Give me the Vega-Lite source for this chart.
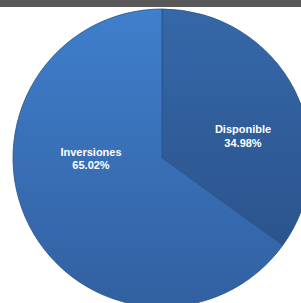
{
  "$schema": "https://vega.github.io/schema/vega-lite/v6.json",
  "width": 324,
  "height": 302,
  "padding": {"top": 7, "left": 0, "right": 0, "bottom": 0},
  "autosize": {"type": "none"},
  "background": "#595959",
  "view": {"fill": "white", "stroke": null},
  "config": {"view": {"fill": "white", "stroke": null}},
  "data": {"values": [
    {"category": "Disponible", "value": 34.98, "label": ["Disponible", "34.98%"]},
    {"category": "Inversiones", "value": 65.02, "label": ["Inversiones", "65.02%"]}
  ]},
  "transform": [
    {"stack": "value", "groupby": [], "as": ["v0", "v1"], "sort": [{"field": "category", "order": "ascending"}]}
  ],
  "layer": [
    {
      "transform": [{"filter": "datum.category === 'Disponible'"}],
      "mark": {"type": "arc", "outerRadius": 149, "stroke": "#2a5286", "strokeWidth": 0.8,
        "color": {"gradient": "linear", "x1": 0, "y1": 0, "x2": 0, "y2": 1,
          "stops": [{"offset": 0, "color": "#3568a9"}, {"offset": 1, "color": "#2b548d"}]}},
      "encoding": {
        "theta": {"field": "v0", "type": "quantitative", "stack": null, "scale": {"domain": [0, 100]}},
        "theta2": {"field": "v1"}
      }
    },
    {
      "transform": [{"filter": "datum.category === 'Inversiones'"}],
      "mark": {"type": "arc", "outerRadius": 149, "stroke": "#2a5286", "strokeWidth": 0.8,
        "color": {"gradient": "linear", "x1": 0, "y1": 0, "x2": 0, "y2": 1,
          "stops": [{"offset": 0, "color": "#3f7fcb"}, {"offset": 1, "color": "#3260a1"}]}},
      "encoding": {
        "theta": {"field": "v0", "type": "quantitative", "stack": null, "scale": {"domain": [0, 100]}},
        "theta2": {"field": "v1"}
      }
    },
    {
      "transform": [{"filter": "datum.category === 'Disponible'"}],
      "mark": {"type": "text", "font": "Liberation Sans", "fontWeight": "bold", "fontSize": 11, "color": "white", "lineHeight": 14, "align": "center", "baseline": "middle", "dx": 81, "dy": -28},
      "encoding": {"text": {"field": "label"}}
    },
    {
      "transform": [{"filter": "datum.category === 'Inversiones'"}],
      "mark": {"type": "text", "font": "Liberation Sans", "fontWeight": "bold", "fontSize": 11, "color": "white", "lineHeight": 13, "align": "center", "baseline": "middle", "dx": -71, "dy": -5},
      "encoding": {"text": {"field": "label"}}
    }
  ]
}
